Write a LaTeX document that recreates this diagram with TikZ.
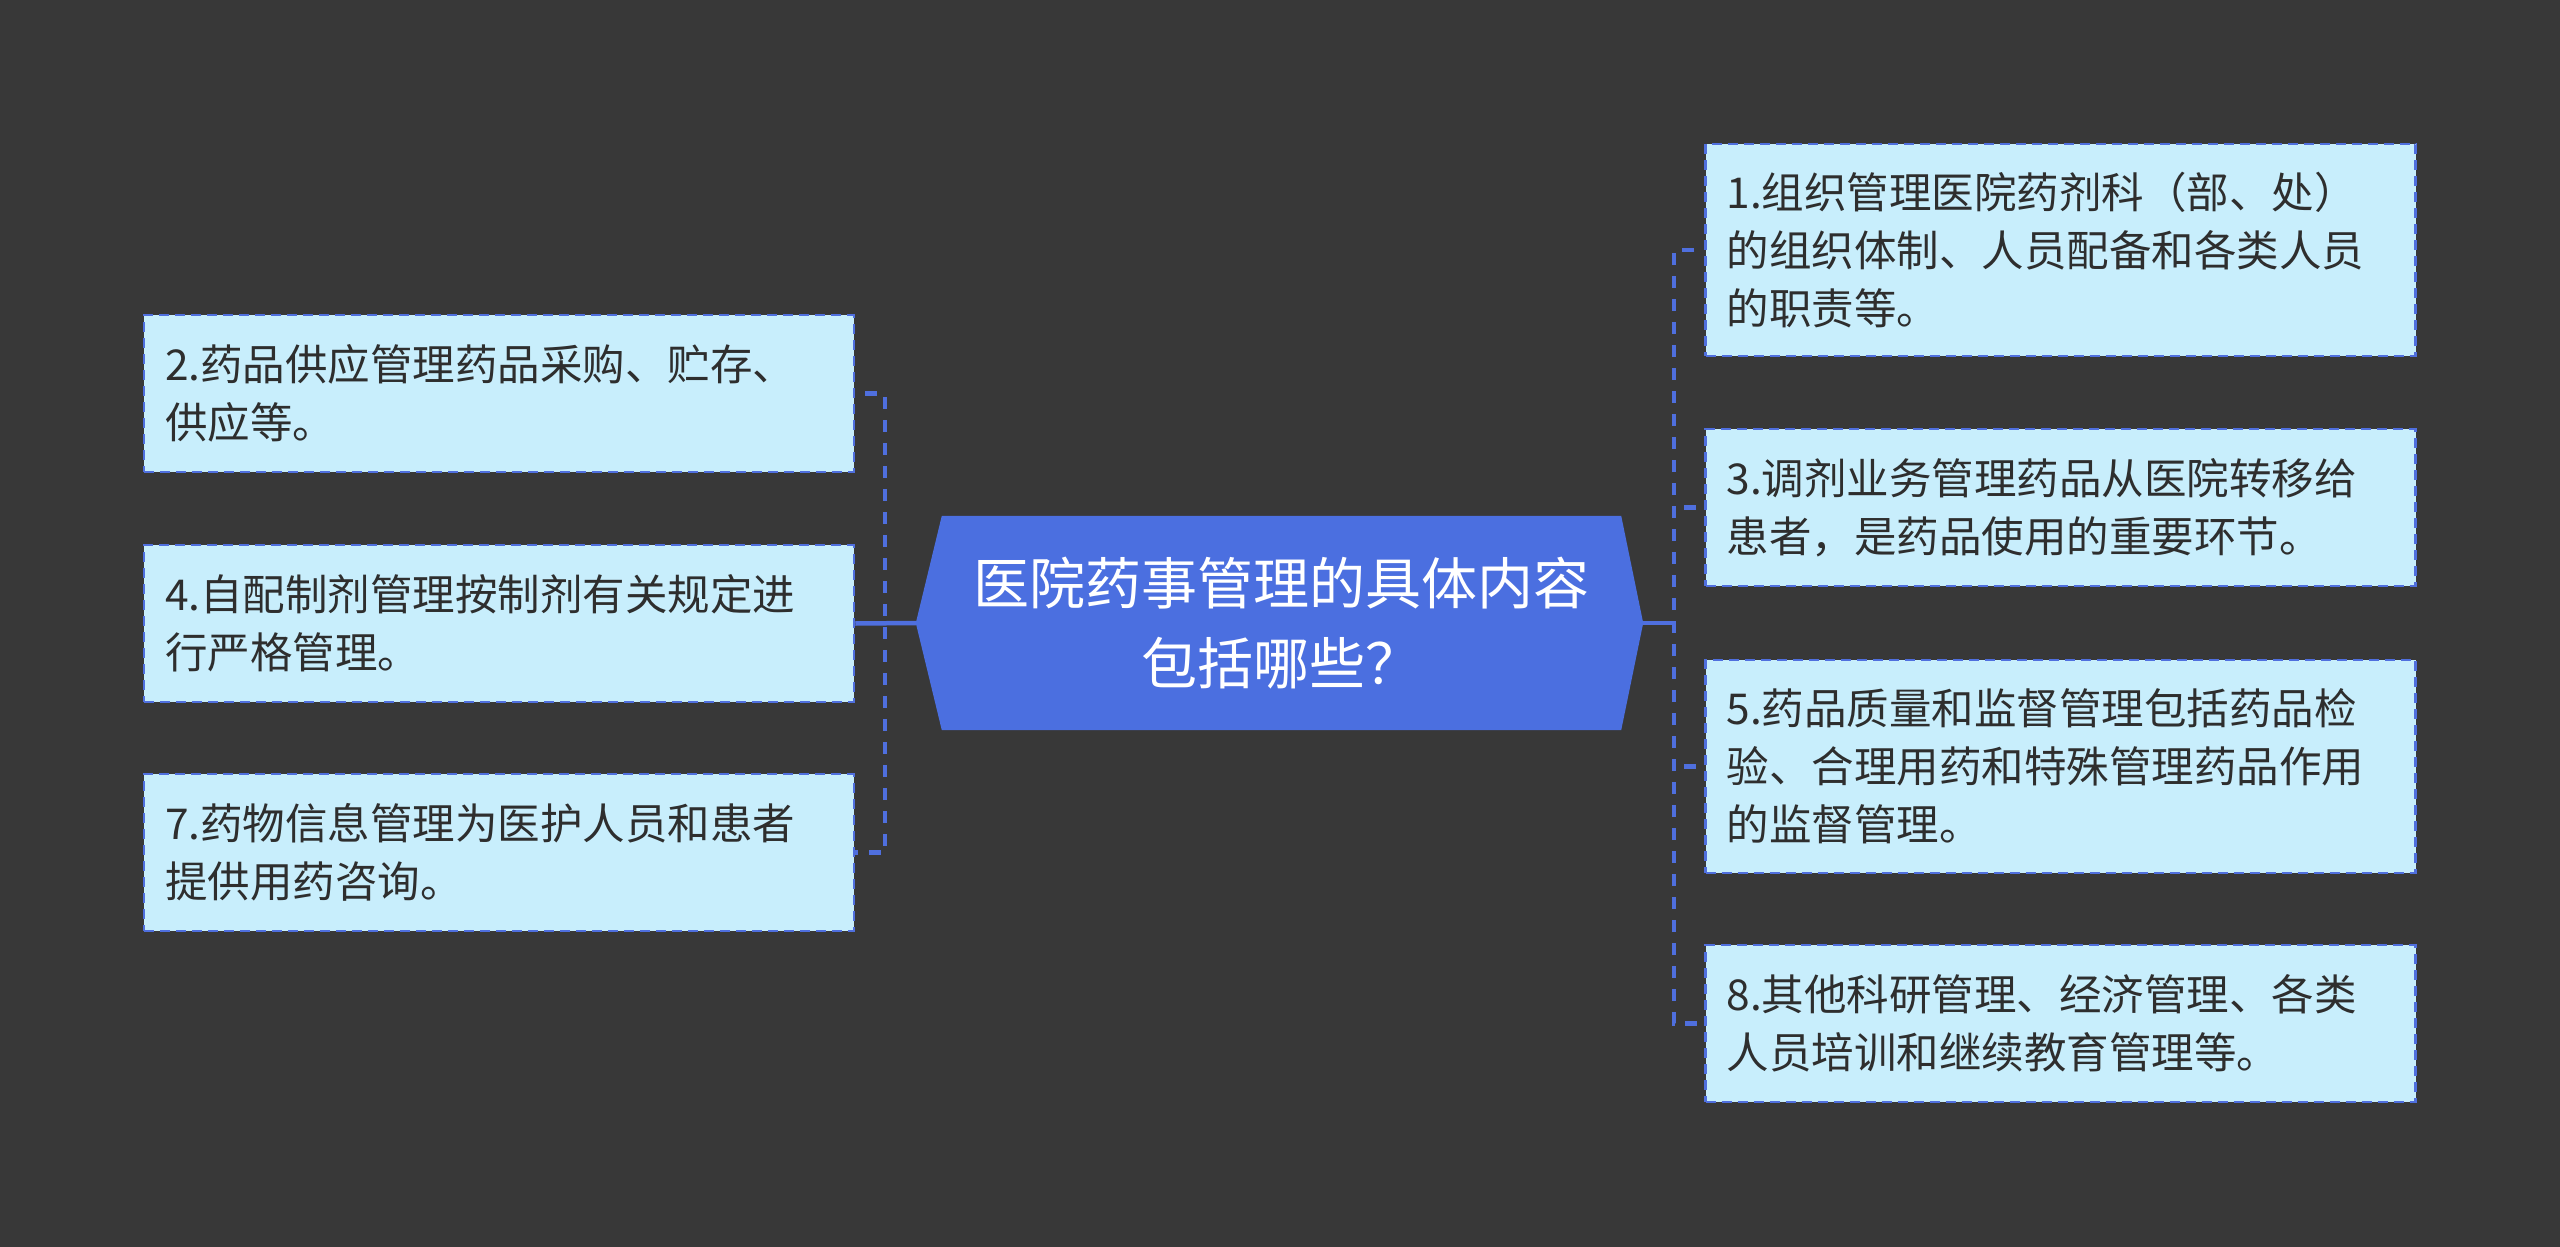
\documentclass[tikz,border=0pt]{standalone}
\usepackage{fontspec}
\setmainfont{Noto Sans CJK SC}
\usetikzlibrary{backgrounds,calc}
\definecolor{bgcol}{HTML}{383838}
\definecolor{boxfill}{HTML}{C8EEFC}
\definecolor{linecol}{HTML}{4F6FDE}
\definecolor{centerfill}{HTML}{4B6FE0}
\definecolor{textcol}{HTML}{2E2E2E}
\tikzset{
  leaf/.style={rectangle, fill=boxfill, draw=linecol, line width=2.5pt,
    dash pattern=on 10pt off 6pt, text=textcol, align=left,
    text width=668pt, inner xsep=21pt, inner ysep=0pt, minimum width=710pt,
    font=\fontsize{42.5pt}{58pt}\selectfont},
  rootnode/.style={rectangle, minimum width=679pt, minimum height=214pt,
    inner sep=0pt, text=white, align=center,
    font=\fontsize{56pt}{80pt}\selectfont},
  link/.style={draw=linecol, line width=4.5pt, dash pattern=on 12pt off 11pt, dash phase=-10pt},
  solidlink/.style={draw=linecol, line width=4.5pt}
}
\begin{document}
\begin{tikzpicture}[x=1pt,y=-1pt]
\useasboundingbox (0,0) rectangle (2560,1247);
% root
\node[rootnode] (c) at (1281.5,623) {医院药事管理的具体内容\\包括哪些？};
\coordinate (cl) at ([xshift=-26pt]c.west);
\coordinate (cr) at ([xshift=22pt]c.east);
\begin{scope}[on background layer]
  \fill[bgcol] (0,0) rectangle (2560,1247);
  \fill[centerfill] (c.north west) -- (c.north east) -- (cr) -- (c.south east)
    -- (c.south west) -- (cl) -- cycle;
\end{scope}
% left leaves
\node[leaf, minimum height=157pt] (b2) at (499,393.5) {2.药品供应管理药品采购、贮存、\\供应等。};
\node[leaf, minimum height=157pt] (b4) at (499,623.5) {4.自配制剂管理按制剂有关规定进\\行严格管理。};
\node[leaf, minimum height=157pt] (b7) at (499,852.5) {7.药物信息管理为医护人员和患者\\提供用药咨询。};
% right leaves
\node[leaf, minimum height=212pt] (b1) at (2060.5,250) {1.组织管理医院药剂科（部、处）\\的组织体制、人员配备和各类人员\\的职责等。};
\node[leaf, minimum height=157pt] (b3) at (2060.5,507.5) {3.调剂业务管理药品从医院转移给\\患者，是药品使用的重要环节。};
\node[leaf, minimum height=213pt] (b5) at (2060.5,766.5) {5.药品质量和监督管理包括药品检\\验、合理用药和特殊管理药品作用\\的监督管理。};
\node[leaf, minimum height=157pt] (b8) at (2060.5,1023.5) {8.其他科研管理、经济管理、各类\\人员培训和继续教育管理等。};
% buses
\coordinate (lb) at (885,623);
\coordinate (rb) at (1674,623);
% left connectors
\draw[solidlink] (cl) -- (b4.east);
\draw[link] (b2.east) -- (b2.east -| lb) -- (b7.east -| lb) -- (b7.east);
% right connectors
\draw[solidlink] (cr) -- (rb);
\draw[link] (b1.west) -- (b1.west -| rb) -- (b8.west -| rb) -- (b8.west);
\draw[link] (b3.west -| rb) -- (b3.west);
\draw[link] (b5.west -| rb) -- (b5.west);
\end{tikzpicture}
\end{document}
